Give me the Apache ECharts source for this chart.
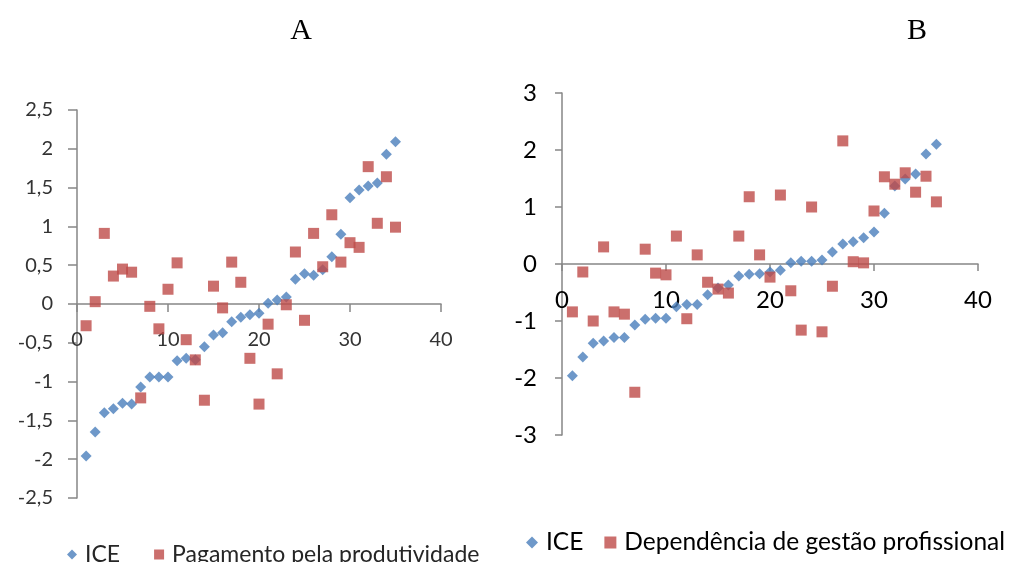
<!DOCTYPE html>
<html>
<head>
<meta charset="utf-8">
<script src="https://cdn.jsdelivr.net/npm/echarts@6/dist/echarts.min.js"></script>
<style>
html,body{margin:0;padding:0;background:#fff;}
#c{width:1019px;height:562px;}
</style>
</head>
<body>
<div id="c"></div>
<script>
// ---- Data ----
var titleA = 'A';
var titleB = 'B';
var nameIce = 'ICE';
var namePay = 'Pagamento pela produtividade';
var nameDep = 'Dependência de gestão profissional';

var idxA = [1,2,3,4,5,6,7,8,9,10,11,12,13,14,15,16,17,18,19,20,21,22,23,24,25,26,27,28,29,30,31,32,33,34,35];
var iceA = [-1.96,-1.65,-1.40,-1.35,-1.28,-1.29,-1.07,-0.94,-0.94,-0.94,-0.73,-0.70,-0.72,-0.55,-0.40,-0.37,-0.23,-0.17,-0.14,-0.12,0.01,0.05,0.09,0.32,0.39,0.37,0.44,0.61,0.90,1.37,1.47,1.52,1.56,1.93,2.09];
var payA = [-0.28,0.03,0.91,0.36,0.45,0.41,-1.21,-0.03,-0.32,0.19,0.53,-0.46,-0.72,-1.24,0.23,-0.05,0.54,0.28,-0.70,-1.29,-0.26,-0.90,-0.01,0.67,-0.21,0.91,0.48,1.15,0.54,0.79,0.73,1.77,1.04,1.64,0.99];

var idxB = [1,2,3,4,5,6,7,8,9,10,11,12,13,14,15,16,17,18,19,20,21,22,23,24,25,26,27,28,29,30,31,32,33,34,35,36];
var iceB = [-1.96,-1.63,-1.39,-1.35,-1.29,-1.29,-1.07,-0.97,-0.95,-0.95,-0.75,-0.71,-0.71,-0.54,-0.42,-0.37,-0.21,-0.18,-0.17,-0.14,-0.11,0.02,0.05,0.05,0.07,0.21,0.35,0.39,0.46,0.56,0.89,1.37,1.49,1.58,1.93,2.10];
var depB = [-0.84,-0.14,-1.00,0.30,-0.84,-0.88,-2.25,0.26,-0.16,-0.19,0.49,-0.96,0.16,-0.32,-0.44,-0.51,0.49,1.18,0.16,-0.23,1.21,-0.47,-1.16,1.00,-1.19,-0.39,2.16,0.04,0.02,0.93,1.53,1.40,1.60,1.26,1.54,1.09];

// ---- Helpers ----
function pairs(xs, ys){ return xs.map(function(x,i){ return [x, ys[i]]; }); }
var blue = '#4A7EBB';
var red = '#BE4B48';
var axisGray = '#868686';
var uiFont = 'Lato, "Open Sans", sans-serif';
function comma(v){ return String(v).replace('.', ','); }

// grid geometry (pixels)
var gA = {left: 77, top: 110, width: 364, height: 388};
var gB = {left: 562, top: 93, width: 416, height: 342};
var yA = {min: -2.5, max: 2.5};
var yB = {min: -3, max: 3};
// offset that places the x axis at y = 0 (crossing like the reference)
function zeroOffset(g, y){ return -g.height * (0 - y.min) / (y.max - y.min); }

var chart = echarts.init(document.getElementById('c'), null, {renderer:'canvas'});
chart.setOption({
  backgroundColor: '#fff',
  animation: false,
  title: [
    {text: titleA, left: 296, top: 11, textAlign: 'center',
     textStyle: {fontFamily: '"Liberation Serif", serif', fontSize: 30, fontWeight: 'normal', color: '#000'}},
    {text: titleB, left: 912, top: 11, textAlign: 'center',
     textStyle: {fontFamily: '"Liberation Serif", serif', fontSize: 30, fontWeight: 'normal', color: '#000'}}
  ],
  legend: [
    {left: 67, top: 543, padding: 0, itemGap: 34, itemWidth: 10, itemHeight: 10,
     textStyle: {fontFamily: uiFont, fontSize: 23, color: '#262626', padding: [0,0,0,3]},
     data: [{name: nameIce, icon: 'diamond'}, {name: namePay, icon: 'rect', itemStyle: {color: red}}]},
    {left: 526, top: 530, padding: 0, itemGap: 21, itemWidth: 12, itemHeight: 12,
     textStyle: {fontFamily: uiFont, fontSize: 24.5, color: '#000', padding: [0,0,0,3]},
     data: [{name: nameIce, icon: 'diamond'}, {name: nameDep, icon: 'rect'}]}
  ],
  grid: [
    {left: gA.left, top: gA.top, width: gA.width, height: gA.height, containLabel: false},
    {left: gB.left, top: gB.top, width: gB.width, height: gB.height, containLabel: false}
  ],
  xAxis: [
    {gridIndex: 0, type: 'value', min: 0, max: 40, interval: 10, position: 'bottom',
     offset: zeroOffset(gA, yA),
     axisLine: {onZero: false, lineStyle: {color: axisGray, width: 1.5}},
     axisTick: {show: true, inside: false, length: 8, lineStyle: {color: axisGray, width: 1.5}},
     axisLabel: {margin: 26, fontFamily: uiFont, fontSize: 20, color: '#333'},
     splitLine: {show: false}},
    {gridIndex: 1, type: 'value', min: 0, max: 40, interval: 10, position: 'bottom',
     offset: zeroOffset(gB, yB),
     axisLine: {onZero: false, lineStyle: {color: axisGray, width: 1.5}},
     axisTick: {show: true, inside: false, length: 7, lineStyle: {color: axisGray, width: 1.5}},
     axisLabel: {margin: 24, fontFamily: uiFont, fontSize: 24, color: '#000'},
     splitLine: {show: false}}
  ],
  yAxis: [
    {gridIndex: 0, type: 'value', min: yA.min, max: yA.max, interval: 0.5,
     axisLine: {show: true, onZero: false, lineStyle: {color: axisGray, width: 1.5}},
     axisTick: {show: true, inside: false, length: 9, lineStyle: {color: axisGray, width: 1.5}},
     axisLabel: {margin: 24, fontFamily: uiFont, fontSize: 20, color: '#333', formatter: comma},
     splitLine: {show: false}},
    {gridIndex: 1, type: 'value', min: yB.min, max: yB.max, interval: 1,
     axisLine: {show: true, onZero: false, lineStyle: {color: axisGray, width: 1.5}},
     axisTick: {show: true, inside: false, length: 7, lineStyle: {color: axisGray, width: 1.5}},
     axisLabel: {margin: 25, fontFamily: uiFont, fontSize: 24, color: '#000'},
     splitLine: {show: false}}
  ],
  series: [
    {name: nameIce, type: 'scatter', xAxisIndex: 0, yAxisIndex: 0, symbol: 'diamond', symbolSize: 11,
     itemStyle: {color: blue}, data: pairs(idxA, iceA)},
    {name: namePay, type: 'scatter', xAxisIndex: 0, yAxisIndex: 0, symbol: 'rect', symbolSize: 11,
     itemStyle: {color: red}, data: pairs(idxA, payA)},
    {name: nameIce, type: 'scatter', xAxisIndex: 1, yAxisIndex: 1, symbol: 'diamond', symbolSize: 11,
     itemStyle: {color: blue}, data: pairs(idxB, iceB)},
    {name: nameDep, type: 'scatter', xAxisIndex: 1, yAxisIndex: 1, symbol: 'rect', symbolSize: 11,
     itemStyle: {color: red}, data: pairs(idxB, depB)}
  ]
});
</script>
</body>
</html>
